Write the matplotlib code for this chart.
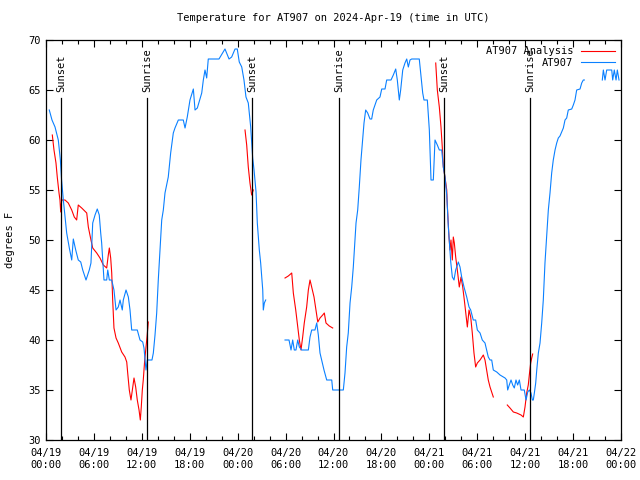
import numpy as np
import matplotlib
matplotlib.use("Agg")
import matplotlib.pyplot as plt

# hours since 2024-04-19 00:00 UTC; NaN splits gaps in the record
obs_hours = [0.41, 0.75, 1.13, 1.54, 1.8, 1.95, 2.17, 2.59, 2.92, 3.22, 3.42, 3.72, 4.04, 4.35,
             4.6, 5.01, 5.42, 5.63, 5.85, 6.14, 6.42, 6.67, 6.85, 6.97, 7.26, 7.6, 7.73, 7.93,
             8.23, 8.51, 8.77, 9.05, 9.27, 9.55, 9.68, 10.02, 10.31, 10.52, 10.73, 11.43, 11.77,
             12.11, 12.27, 12.52, 12.68, 13.27, 13.44, 13.65, 13.86, 14.06, 14.27, 14.49, 14.69,
             14.9, 15.31, 15.61, 15.94, 16.15, 16.57, 17.19, 17.41, 17.69, 18.03, 18.45, 18.66,
             18.95, 19.5, 19.7, 19.91, 20.12, 20.32, 21.66, 22.41, 22.92, 23.25, 23.67, 23.95,
             24.2, 24.51, 24.79, 25.04, 25.33, 25.63, 25.88, 26.05, 26.3, 26.46, 26.71, 26.88,
             27.01, 27.14, 27.21, 27.34, 27.51, 28.5,
             29.93, 30.43, 30.68, 30.89, 31.09, 31.3, 31.52, 31.72, 32.02, 32.85, 33.06, 33.27,
             33.68, 33.9, 34.1, 34.31, 34.52, 34.81, 35.15, 35.78, 35.9, 37.23, 37.44, 37.65,
             37.85, 38.07, 38.28, 38.48, 38.61, 38.82, 39.03, 39.23, 39.44, 39.65, 39.82, 40.03,
             40.28, 40.57, 40.78, 40.98, 41.41, 41.82, 42.04, 42.45, 42.66, 43.2, 43.49, 43.79,
             43.99, 44.24, 44.41, 44.67, 44.95, 45.17, 45.37, 45.58, 45.79, 46.74, 46.92, 47.17,
             47.33, 47.75, 48.0, 48.21, 48.5, 48.71, 49.0, 49.25, 49.55, 49.75, 49.96, 50.18,
             50.38, 50.68, 50.88, 51.09, 51.3, 51.63, 51.84, 52.05, 52.34, 52.68, 52.97, 53.18,
             53.5, 53.8, 54.01, 54.35, 54.63, 54.97, 55.18, 55.38, 55.6, 55.81, 56.01, 56.44,
             56.85, 57.48, 57.69, 57.81, 58.01, 58.23, 58.44, 58.64, 58.85, 59.06, 59.27, 59.48,
             59.89, 60.11, 60.32, 60.52, 60.73, 60.9, 61.02, 61.15, 61.32, 61.45, 61.65, 61.86,
             62.07, 62.27, 62.48, 62.69, 62.9, 63.11, 63.32, 63.52, 63.74, 63.95, 64.15, 64.36,
             64.57, 64.78, 64.99, 65.2, 65.4, 65.83, 66.03, 66.24, 66.45, 66.87, 67.08, 67.28,
             67.41, 68.5,
             69.66, 69.79, 70.0, 70.21, 70.41, 70.84, 70.96, 71.16, 71.38, 71.54, 71.75]
obs_temp = [63, 62, 61.3, 60, 58, 56, 54, 50.7, 49.2, 48, 50.1, 49, 48, 47.8,
            47, 46, 47, 47.7, 51.7, 52.5, 53.1, 52.5, 50.7, 49.7, 46, 46, 47, 46,
            46, 45, 43, 43.3, 44, 43, 44, 45, 44.3, 43, 41, 41, 40,
            39.8, 39.2, 37, 38, 38, 38.7, 40.5, 42.7, 46, 49, 52, 53,
            54.7, 56.3, 58.7, 60.7, 61.2, 62, 62, 61.2, 62.3, 64, 65.1, 63,
            63.2, 64.7, 66, 67, 66.2, 68.1, 68.1, 69.1, 68.1, 68.3, 69.1, 69.1,
            67.8, 67.3, 66, 64.3, 63.7, 61.3, 58.2, 57, 54.8, 51.7, 49, 47.7,
            46.3, 45, 43, 43.7, 44, np.nan,
            40, 40, 39, 40, 39, 39, 40, 39.3, 39, 39, 40.3, 41,
            41, 41.7, 40.5, 38.7, 38, 37, 36, 36, 35, 35, 36.7, 39.3,
            40.7, 43.7, 45.3, 47.3, 49, 51.7, 53, 55.3, 58, 60, 61.7, 63,
            62.7, 62.1, 62.1, 63, 64, 64.3, 65.1, 65.1, 66, 66, 66.5, 67.1,
            66, 64, 65, 67, 67.7, 68.1, 67.3, 68, 68.1, 68.1, 66.7, 64.7,
            64, 64, 61, 56, 56, 60, 59.5, 59, 59, 57.3, 56.3, 54.5,
            51.3, 47.8, 46.3, 46, 47, 47.8, 47.3, 46.3, 45.3, 44.3, 43.3, 43,
            42, 42, 41, 40.7, 40, 39.7, 39, 38.3, 38, 38, 37, 36.8,
            36.5, 36.2, 36, 35, 35.5, 36, 35.5, 35.2, 36, 35.5, 36, 35,
            35, 34, 34.8, 35, 34.7, 34, 34, 34.7, 35.7, 37, 38.7, 39.7,
            41.7, 44, 47.7, 50.3, 53, 54.7, 56.7, 58, 59, 59.7, 60.2, 60.4,
            60.8, 61.2, 62, 62.2, 63, 63.1, 63.5, 64, 65, 65.1, 65.7, 66,
            66, np.nan,
            66, 67, 66, 67, 67, 67, 66, 67, 66, 67, 66]

ana_hours = [0.79, 1.0, 1.25, 1.41, 1.63, 1.75, 1.84, 1.97, 2.38, 2.79, 3.22, 3.54, 3.84, 4.04,
             4.47, 5.1, 5.3, 5.63, 5.85, 6.35, 6.76, 7.18, 7.6, 7.8, 7.93, 8.1, 8.23, 8.35,
             8.51, 8.77, 9.05, 9.48, 9.89, 10.11, 10.23, 10.43, 10.64, 10.86, 11.02, 11.23,
             11.43, 11.65, 11.81, 11.93, 12.06, 12.18, 12.36, 12.52, 12.65, 12.81, 18.0,
             24.92, 25.13, 25.33, 25.54, 25.75, 25.96, 28.0,
             29.93, 30.34, 30.77, 30.97, 31.27, 31.52, 31.72, 31.93, 32.14, 32.34, 32.64, 32.85,
             33.06, 33.27, 33.56, 33.81, 34.03, 34.31, 34.65, 34.85, 35.06, 35.47, 35.9, 42.0,
             48.8, 49.0, 49.25, 49.46, 49.62, 49.75, 49.96, 50.18, 50.25, 50.46, 50.59, 50.71,
             50.88, 51.0, 51.13, 51.3, 51.55, 51.75, 51.97, 52.18, 52.38, 52.56, 52.76, 52.97,
             53.18, 53.38, 53.59, 53.8, 54.01, 54.35, 54.76, 54.97, 55.18, 55.38, 55.6, 55.81,
             56.01, 57.0,
             57.76, 58.1, 58.52, 58.94, 59.48, 59.77, 59.98, 60.19, 60.39, 60.52, 60.69, 60.82,
             60.94]
ana_temp = [60.5, 59, 57.7, 56.3, 54.7, 54, 52.8, 54, 54, 53.7, 53, 52.3, 52, 53.5,
            53.2, 52.7, 51.3, 50, 49.2, 48.7, 48.2, 47.5, 47.2, 48.5, 49.2, 48.2, 46.7, 44,
            41.2, 40.2, 39.7, 38.8, 38.3, 37.8, 36.7, 35, 34, 35.3, 36.2, 35.3,
            34, 33, 32, 33.3, 35, 36, 38, 39.3, 40.3, 41.8, np.nan,
            61, 59.5, 57.3, 55.7, 54.5, 55, np.nan,
            46.2, 46.4, 46.7, 44.7, 43, 41.3, 40, 39, 40.3, 41.7, 43.3, 45,
            46, 45.3, 44.3, 43, 41.8, 42.2, 42.5, 42.7, 41.7, 41.4, 41.2, np.nan,
            67.7, 65, 63.3, 61.3, 59.3, 57.3, 56.3, 55, 53.5, 50.3, 49, 50,
            48, 50.3, 49.7, 48.3, 46.7, 45.3, 46.3, 45.3, 44, 42.7, 41.3, 43,
            42.3, 40.7, 38.7, 37.3, 37.7, 38, 38.5, 38, 37, 36, 35.3, 34.8,
            34.3, np.nan,
            33.5, 33.2, 32.8, 32.7, 32.5, 32.3, 33.3, 34.7, 35.5, 36.5, 37.7, 38.2,
            38.6]

sun_hours = [1.92, 12.69, 25.84, 36.73, 49.88, 60.65]
sun_labels = ["Sunset", "Sunrise", "Sunset", "Sunrise", "Sunset", "Sunrise"]

tick_hours = list(range(0, 73, 6))
tick_labels = ["04/19\n00:00", "04/19\n06:00", "04/19\n12:00", "04/19\n18:00",
               "04/20\n00:00", "04/20\n06:00", "04/20\n12:00", "04/20\n18:00",
               "04/21\n00:00", "04/21\n06:00", "04/21\n12:00", "04/21\n18:00",
               "04/22\n00:00"]

plt.rcParams['font.family'] = ['DejaVu Sans Mono']
plt.rcParams['font.size'] = 7

fig = plt.figure(figsize=(6.4, 4.8), dpi=100)
ax = fig.add_axes([46 / 640, 40 / 480, 575 / 640, 400 / 480])

ax.plot(ana_hours, ana_temp, color='#ff0000', lw=0.8, label='AT907 Analysis')
ax.plot(obs_hours, obs_temp, color='#0a80ff', lw=0.8, label='AT907')

for h, lab in zip(sun_hours, sun_labels):
    ax.axvline(h, ymin=0, ymax=(64.2 - 30) / 40, color='black', lw=0.9)
    ax.text(h, 64.8, lab, rotation=90, ha='center', va='bottom', fontsize=7.5)

ax.set_xlim(0, 72)
ax.set_ylim(30, 70)
ax.set_xticks(tick_hours)
ax.set_xticklabels(tick_labels, fontsize=7.5)
ax.set_xticks(range(0, 73, 2), minor=True)
ax.set_yticks(range(30, 71, 5))
ax.tick_params(axis='both', which='both', direction='in', top=True, right=True,
               labelsize=7.5, width=0.8)
ax.tick_params(which='major', length=5)
ax.tick_params(which='minor', length=3)
ax.tick_params(axis='x', pad=6)
for s in ax.spines.values():
    s.set_linewidth(0.9)

ax.set_ylabel('degrees F', fontsize=7.5, labelpad=10)
ax.set_title('Temperature for AT907 on 2024-Apr-19 (time in UTC)', fontsize=7.5, pad=14)

ax.legend(loc='upper right', frameon=False, markerfirst=False, fontsize=7.5,
          handlelength=3.2, labelspacing=0.15, borderaxespad=0.2, handletextpad=0.8)

fig.savefig('out.png', dpi=100)
